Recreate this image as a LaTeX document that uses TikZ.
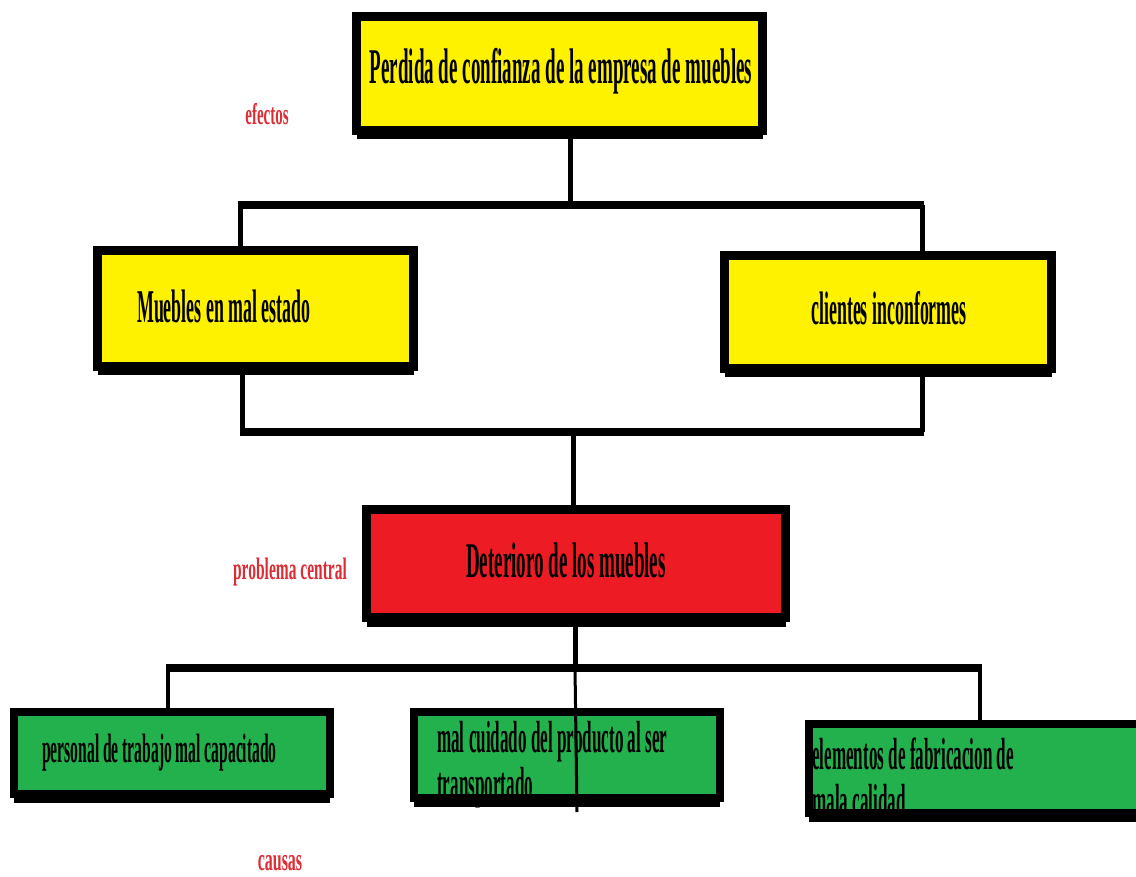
\documentclass[tikz,border=0pt]{standalone}
\usepackage{fontspec}
\usetikzlibrary{shadows}
\newfontfamily\condf{Liberation Serif}[FakeStretch=0.38]
\newfontfamily\lblf{Liberation Serif}[FakeStretch=0.5]
\definecolor{boxyellow}{RGB}{255,242,0}
\definecolor{boxred}{RGB}{237,28,36}
\definecolor{boxgreen}{RGB}{34,177,76}
\definecolor{labelred}{RGB}{222,44,52}
\begin{document}
\begin{tikzpicture}[x=1pt,y=-1pt,
  box/.style={draw=black, line width=9pt, inner sep=0pt,
    drop shadow={shadow xshift=0pt, shadow yshift=-9pt, fill=black, opacity=1}},
  hline/.style={draw=black, line width=8pt},
  vline/.style={draw=black, line width=5pt},
  txt/.style={inner sep=0pt, font=\condf\bfseries\fontsize{#1}{46}\selectfont},
  lbl/.style={inner sep=0pt, text=labelred, font=\lblf\bfseries\fontsize{#1}{#1}\selectfont}]
\useasboundingbox (0,0) rectangle (1136,877);

% junction points of the connector tree
\coordinate (e1) at (570,205);
\coordinate (eL) at (240,205);
\coordinate (eR) at (922,205);
\coordinate (m1) at (242,432);
\coordinate (m2) at (922,432);
\coordinate (mc) at (573,432);
\coordinate (c0) at (575,668);
\coordinate (cL) at (168,668);
\coordinate (cR) at (980,668);
\coordinate (cend) at (577,812);

% boxes (positioned by centre)
\node[box, fill=boxyellow, minimum width=406pt, minimum height=114pt] (top) at (559.5,73.5) {};
\node[box, fill=boxyellow, minimum width=316pt, minimum height=116pt] (mueb) at (255.5,308.5) {};
\node[box, fill=boxyellow, minimum width=327pt, minimum height=113pt] (cli) at (888,312) {};
\node[box, fill=boxred, minimum width=419pt, minimum height=108pt] (det) at (576,563.5) {};
\node[box, fill=boxgreen, line width=8pt, minimum width=316pt, minimum height=82pt] (g1) at (172,753) {};
\node[box, fill=boxgreen, line width=8pt, minimum width=306pt, minimum height=86pt] (g2) at (567,755) {};
\node[box, fill=boxgreen, line width=8pt, minimum width=332pt, minimum height=89pt] (g3) at (975,768.5) {};

% connectors between the boxes
\draw[vline] (top.south -| e1) -- (e1);
\draw[hline] ([xshift=-2pt]eL) -- ([xshift=2pt]eR);
\draw[vline] (eL) -- (eL |- mueb.north);
\draw[vline] (eR) -- (eR |- cli.north);
\draw[vline] (m1 |- mueb.south) -- (m1);
\draw[vline] (m2 |- cli.south) -- (m2);
\draw[hline] ([xshift=-2pt]m1) -- ([xshift=2pt]m2);
\draw[vline] (mc) -- (mc |- det.north);
\draw[vline] (det.south -| c0) -- (c0);
\draw[hline] ([xshift=-2pt]cL) -- ([xshift=2pt]cR);
\draw[vline, line width=4pt] (cL) -- (cL |- g1.north);
\draw[vline, line width=4pt] (cR) -- (cR |- g3.north);
\draw[vline, line width=3pt] (c0) -- (cend);

% box texts
\node[txt=50, anchor=base] (ttop) at (561,84) {Perdida de confianza de la empresa de muebles};
\node[txt=47, anchor=base west] (tmueb) at (137,323) {Muebles en mal estado};
\node[txt=47, anchor=base] (tcli) at (889,325) {clientes inconformes};
\node[txt=50, anchor=base] (tdet) at (566,577) {Deterioro de los muebles};
\node[txt=41, anchor=base west] (tg1) at (42,762) {personal de trabajo mal capacitado};
\node[txt=45, align=left, anchor=north west] (tg2) at (437,721)
  {mal cuidado del producto al ser\\transportado};
\node[txt=45, align=left, anchor=north west] (tg3) at (812,738)
  {elementos de fabricacion de\\mala calidad};

% side labels
\node[lbl=30, anchor=base] (lefe) at (267,125) {efectos};
\node[lbl=31, anchor=base] (lprob) at (290,579) {problema central};
\node[lbl=32, anchor=base] (lcau) at (280,870) {causas};
\end{tikzpicture}
\end{document}
